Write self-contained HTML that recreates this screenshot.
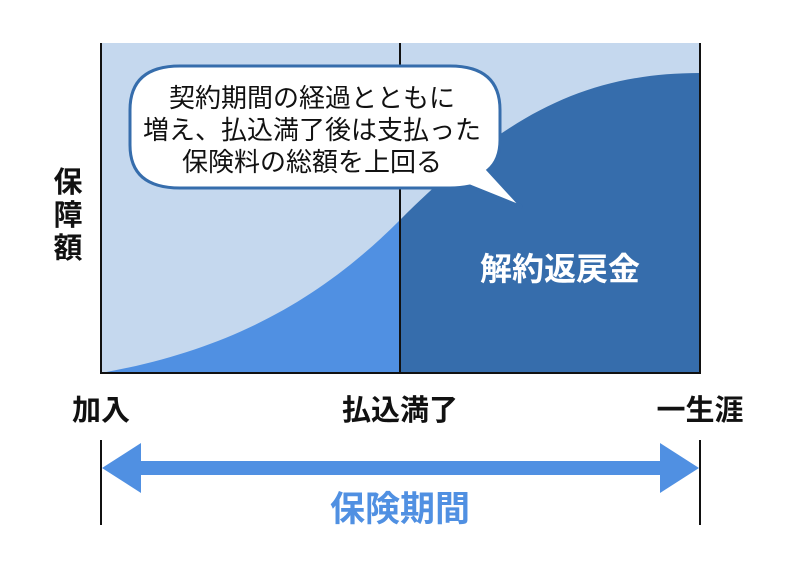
<!DOCTYPE html>
<html><head><meta charset="utf-8"><style>
html,body{margin:0;padding:0;background:#fff;}
svg text{font-family:"Liberation Sans","Noto Sans CJK JP",sans-serif;}
</style></head><body>
<svg width="800" height="580" viewBox="0 0 800 580" xmlns="http://www.w3.org/2000/svg">
<rect x="101" y="43" width="599" height="330" fill="#c5d8ee"/>
<clipPath id="l"><rect x="101" y="43" width="299" height="330"/></clipPath>
<clipPath id="r"><rect x="400" y="43" width="300" height="330"/></clipPath>
<path d="M101,373 C230,350 320,300 400,220 C500,120 580,73 700,73 L700,373 Z" fill="#5090e2" clip-path="url(#l)"/>
<path d="M101,373 C230,350 320,300 400,220 C500,120 580,73 700,73 L700,373 Z" fill="#366dac" clip-path="url(#r)"/>
<line x1="101" y1="43" x2="101" y2="373" stroke="#111" stroke-width="2"/>
<line x1="700" y1="43" x2="700" y2="373" stroke="#111" stroke-width="2"/>
<line x1="400" y1="43" x2="400" y2="373" stroke="#111" stroke-width="2"/>
<line x1="100" y1="373" x2="701" y2="373" stroke="#111" stroke-width="2"/>
<path d="M180,66 H450 Q500,66 500,110 V140 Q500,160 488,170 L522,207 L470,186 Q460,188 450,188 H180 Q130,188 130,145 V110 Q130,66 180,66 Z" fill="#fff" stroke="#366dac" stroke-width="3"/>
<g font-size="26" fill="#111" text-anchor="middle">
<text x="312" y="107">契約期間の経過とともに</text>
<text x="312" y="139">増え、払込満了後は支払った</text>
<text x="312" y="171">保険料の総額を上回る</text>
</g>
<text x="560" y="280" font-size="32" font-weight="bold" fill="#fff" text-anchor="middle">解約返戻金</text>
<g font-size="29" font-weight="bold" fill="#111" text-anchor="middle">
<text x="68" y="192">保</text><text x="68" y="225">障</text><text x="68" y="258">額</text>
<text x="101" y="420">加入</text>
<text x="400" y="420">払込満了</text>
<text x="700" y="420">一生涯</text>
</g>
<line x1="101" y1="440" x2="101" y2="525" stroke="#111" stroke-width="2"/>
<line x1="700" y1="440" x2="700" y2="525" stroke="#111" stroke-width="2"/>
<path d="M102,468 L141,443 L141,461 L660,461 L660,443 L699,468 L660,493 L660,475 L141,475 L141,493 Z" fill="#5090e2"/>
<text x="400" y="521" font-size="35" font-weight="bold" fill="#5090e2" text-anchor="middle">保険期間</text>
</svg>
</body></html>
